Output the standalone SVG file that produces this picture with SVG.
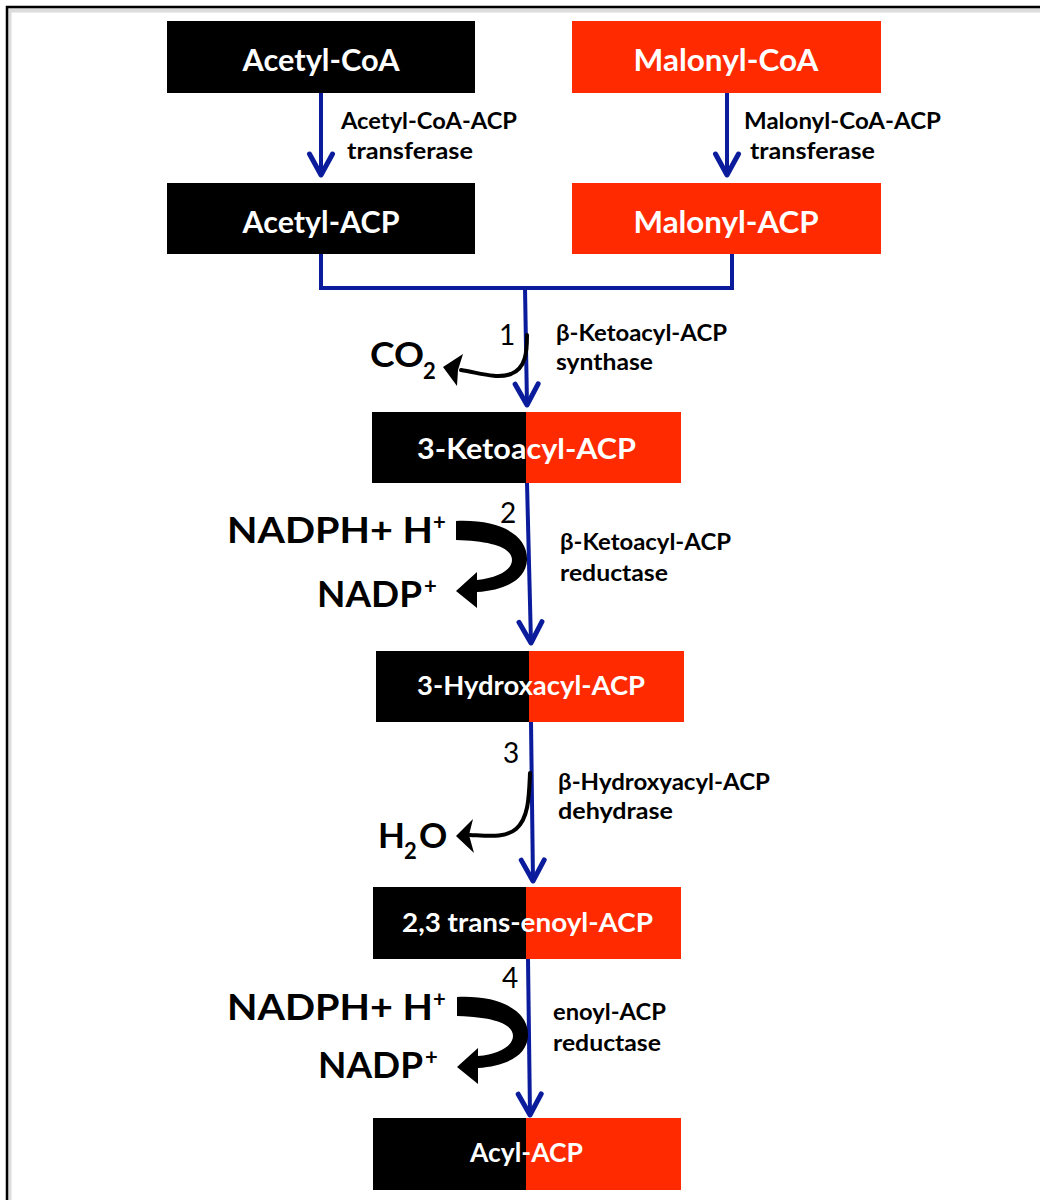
<svg xmlns="http://www.w3.org/2000/svg" width="1040" height="1200" viewBox="0 0 1040 1200">
<style>
  .lbl { font-family: Lato, "Open Sans", "Liberation Sans", sans-serif; font-weight: 700; fill: #fff; text-anchor: middle; }
  .enz { font-family: Lato, "Open Sans", "Liberation Sans", sans-serif; font-weight: 700; fill: #000; font-size: 23px; }
  .mol { font-family: Lato, "Open Sans", "Liberation Sans", sans-serif; font-weight: 700; fill: #000; }
  .num { font-family: Lato, "Open Sans", "Liberation Sans", sans-serif; font-weight: 400; fill: #000; font-size: 28px; }
  .blk { fill: #000; }
  .red { fill: #ff2a00; }
  .flow { stroke: #0a1c9c; stroke-width: 4; fill: none; }
  .side { stroke: #000; stroke-width: 4; fill: none; stroke-linecap: round; }
</style>
<defs>
  <marker id="chev" markerUnits="userSpaceOnUse" viewBox="-30 -16 34 32" refX="0" refY="0" markerWidth="34" markerHeight="32" orient="auto">
    <path d="M-21,-11.5 L0,0 L-21,11.5" fill="none" stroke="#0a1c9c" stroke-width="5" stroke-linecap="round" stroke-linejoin="round"/>
  </marker>
</defs>
<rect x="0" y="0" width="1040" height="1200" fill="#fff"/>
<!-- frame -->
<rect x="9" y="10" width="1100" height="1300" fill="none" stroke="#dcdcdc" stroke-width="5"/>
<rect x="7" y="7" width="1100" height="1300" fill="none" stroke="#000" stroke-width="2.5"/>

<g id="connectors">
  <line class="flow" x1="321" y1="93" x2="321" y2="175" marker-end="url(#chev)"/>
  <line class="flow" x1="727" y1="93" x2="727" y2="175" marker-end="url(#chev)"/>
  <polyline class="flow" stroke-width="3.5" points="321,254 321,288 732,288 732,254"/>
  <line class="flow" x1="525" y1="288" x2="527" y2="405" marker-end="url(#chev)"/>
  <line class="flow" x1="527" y1="483" x2="531" y2="643" marker-end="url(#chev)"/>
  <line class="flow" x1="531" y1="722" x2="533" y2="881" marker-end="url(#chev)"/>
  <line class="flow" x1="528" y1="959" x2="530" y2="1115" marker-end="url(#chev)"/>
</g>

<g id="acetyl-coa">
  <rect class="blk" x="167" y="21" width="308" height="72"/>
  <text class="lbl" x="321" y="71" font-size="31" textLength="157" lengthAdjust="spacingAndGlyphs">Acetyl-CoA</text>
</g>
<g id="malonyl-coa">
  <rect class="red" x="572" y="21" width="309" height="72"/>
  <text class="lbl" x="726" y="71" font-size="31" textLength="185" lengthAdjust="spacingAndGlyphs">Malonyl-CoA</text>
</g>
<g id="acetyl-acp">
  <rect class="blk" x="167" y="183" width="308" height="71"/>
  <text class="lbl" x="321" y="233" font-size="31" textLength="157" lengthAdjust="spacingAndGlyphs">Acetyl-ACP</text>
</g>
<g id="malonyl-acp">
  <rect class="red" x="572" y="183" width="309" height="71"/>
  <text class="lbl" x="726" y="233" font-size="31" textLength="185" lengthAdjust="spacingAndGlyphs">Malonyl-ACP</text>
</g>
<g id="ketoacyl-acp">
  <rect class="blk" x="372" y="412" width="154" height="71"/>
  <rect class="red" x="526" y="412" width="155" height="71"/>
  <text class="lbl" x="526.5" y="459" font-size="29" textLength="219" lengthAdjust="spacingAndGlyphs">3-Ketoacyl-ACP</text>
</g>
<g id="hydroxacyl-acp">
  <rect class="blk" x="376" y="651" width="153" height="71"/>
  <rect class="red" x="529" y="651" width="155" height="71"/>
  <text class="lbl" x="531" y="695" font-size="26" textLength="228" lengthAdjust="spacingAndGlyphs">3-Hydroxacyl-ACP</text>
</g>
<g id="enoyl-acp">
  <rect class="blk" x="373" y="887" width="153" height="72"/>
  <rect class="red" x="526" y="887" width="155" height="72"/>
  <text class="lbl" x="527.5" y="932" font-size="27" textLength="251" lengthAdjust="spacingAndGlyphs">2,3 trans-enoyl-ACP</text>
</g>
<g id="acyl-acp">
  <rect class="blk" x="373" y="1118" width="153" height="72"/>
  <rect class="red" x="526" y="1118" width="155" height="72"/>
  <text class="lbl" x="526.5" y="1162" font-size="27" textLength="113" lengthAdjust="spacingAndGlyphs">Acyl-ACP</text>
</g>

<g id="enzyme-labels">
  <text class="enz" x="341" y="129" textLength="176" lengthAdjust="spacingAndGlyphs">Acetyl-CoA-ACP</text>
  <text class="enz" x="347" y="159" textLength="126" lengthAdjust="spacingAndGlyphs">transferase</text>
  <text class="enz" x="744" y="129" textLength="197" lengthAdjust="spacingAndGlyphs">Malonyl-CoA-ACP</text>
  <text class="enz" x="750" y="159" textLength="125" lengthAdjust="spacingAndGlyphs">transferase</text>
  <text class="enz" x="556" y="341" textLength="171" lengthAdjust="spacingAndGlyphs">β-Ketoacyl-ACP</text>
  <text class="enz" x="556" y="370" textLength="97" lengthAdjust="spacingAndGlyphs">synthase</text>
  <text class="enz" x="560" y="550" textLength="171" lengthAdjust="spacingAndGlyphs">β-Ketoacyl-ACP</text>
  <text class="enz" x="560" y="581" textLength="108" lengthAdjust="spacingAndGlyphs">reductase</text>
  <text class="enz" x="558" y="790" textLength="212" lengthAdjust="spacingAndGlyphs">β-Hydroxyacyl-ACP</text>
  <text class="enz" x="558" y="819" textLength="115" lengthAdjust="spacingAndGlyphs">dehydrase</text>
  <text class="enz" x="553" y="1020" textLength="113" lengthAdjust="spacingAndGlyphs">enoyl-ACP</text>
  <text class="enz" x="553" y="1051" textLength="108" lengthAdjust="spacingAndGlyphs">reductase</text>
</g>

<g id="step-numbers">
  <text class="num" x="507" y="345" text-anchor="middle">1</text>
  <text class="num" x="508" y="523" text-anchor="middle">2</text>
  <text class="num" x="511" y="763" text-anchor="middle">3</text>
  <text class="num" x="510" y="988" text-anchor="middle">4</text>
</g>

<g id="co2">
  <path class="side" d="M527,335 C527,352 526,368 511,374 C496,379 480,373 461,370"/>
  <polygon points="443,367 463,354 458,370 457,386" fill="#000"/>
  <text class="mol" x="370" y="367" font-size="34" textLength="54" lengthAdjust="spacingAndGlyphs">CO</text>
  <text class="mol" x="423" y="379" font-size="22">2</text>
</g>

<g id="h2o">
  <path class="side" d="M530,773 C529,795 529,818 516,829 C505,838 490,836 470,835"/>
  <polygon points="456,836 473,819 469,835 474,853" fill="#000"/>
  <text class="mol" x="378" y="848" font-size="35">H</text>
  <text class="mol" x="404" y="859" font-size="22">2</text>
  <text class="mol" x="419" y="848" font-size="35">O</text>
</g>

<g id="nadph-1">
  <path d="M456,521 C500,519 528,535 527,560 C526,580 505,590 477,592 L477,608 L456,591 L477,572 L477,580 C498,578 512,570 512,560 C512,547 490,541 456,540 Z" fill="#000"/>
  <text class="mol" x="227" y="543" font-size="36" textLength="206" lengthAdjust="spacingAndGlyphs">NADPH+ H</text>
  <text class="mol" x="433" y="530" font-size="22">+</text>
  <text class="mol" x="317" y="607" font-size="36" textLength="105" lengthAdjust="spacingAndGlyphs">NADP</text>
  <text class="mol" x="424" y="594" font-size="22">+</text>
</g>

<g id="nadph-2">
  <path transform="translate(1,476)" d="M456,521 C500,519 528,535 527,560 C526,580 505,590 477,592 L477,608 L456,591 L477,572 L477,580 C498,578 512,570 512,560 C512,547 490,541 456,540 Z" fill="#000"/>
  <text class="mol" x="227" y="1020" font-size="36" textLength="206" lengthAdjust="spacingAndGlyphs">NADPH+ H</text>
  <text class="mol" x="433" y="1007" font-size="22">+</text>
  <text class="mol" x="318" y="1078" font-size="36" textLength="105" lengthAdjust="spacingAndGlyphs">NADP</text>
  <text class="mol" x="425" y="1065" font-size="22">+</text>
</g>
</svg>
